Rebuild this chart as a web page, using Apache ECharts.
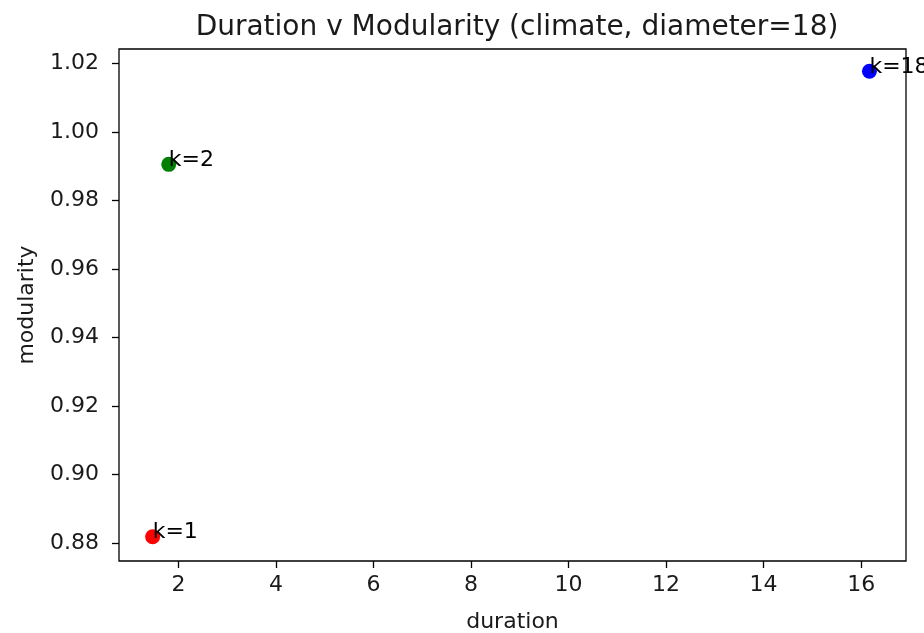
<!DOCTYPE html>
<html>
<head>
<meta charset="utf-8">
<script src="https://cdn.jsdelivr.net/npm/echarts@6/dist/echarts.min.js"></script>
<style>
html,body{margin:0;padding:0;background:#fff;}
#chart{width:924px;height:633px;}
</style>
</head>
<body>
<div id="chart"></div>
<script>
const pointLabels = ['k=1', 'k=2', 'k=18'];
const durations = [1.47, 1.80, 16.17];
const modularity = [0.8818, 0.9906, 1.0178];
const pointColors = ['#ff0000', '#008000', '#0000ff'];
const xTicks = [2, 4, 6, 8, 10, 12, 14, 16];
const yTicks = [0.88, 0.90, 0.92, 0.94, 0.96, 0.98, 1.00, 1.02];

const font = 'DejaVu Sans';
const chart = echarts.init(document.getElementById('chart'), null, {renderer: 'canvas'});
const data = durations.map((d, i) => ({
  value: [d, modularity[i]],
  name: pointLabels[i],
  itemStyle: {color: pointColors[i], opacity: 1}
}));
chart.setOption({
  animation: false,
  backgroundColor: '#fff',
  title: {
    text: 'Duration v Modularity (climate, diameter=18)',
    left: 512, top: 9, textAlign: 'center',
    textStyle: {fontFamily: font, fontSize: 28, fontWeight: 'normal', color: '#1a1a1a'}
  },
  grid: {left: 119, right: 18, top: 49, bottom: 72, show: true, borderColor: '#000', borderWidth: 1.3, backgroundColor: 'transparent', outerBoundsMode: 'none', containLabel: false},
  xAxis: {
    type: 'value', min: 0.78, max: 16.92,
    name: 'duration', nameLocation: 'middle', nameGap: 50,
    nameTextStyle: {fontFamily: font, fontSize: 22, color: '#1a1a1a'},
    axisLine: {show: false},
    splitLine: {show: false},
    axisTick: {show: true, inside: false, length: 7, lineStyle: {color: '#000', width: 1.3}, customValues: xTicks},
    axisLabel: {fontFamily: font, fontSize: 22, color: '#1a1a1a', margin: 13, customValues: xTicks, formatter: v => String(v)}
  },
  yAxis: {
    type: 'value', min: 0.8747, max: 1.0243,
    name: 'modularity', nameLocation: 'middle', nameGap: 81,
    nameTextStyle: {fontFamily: font, fontSize: 22, color: '#1a1a1a'},
    axisLine: {show: false},
    splitLine: {show: false},
    axisTick: {show: true, inside: false, length: 7, lineStyle: {color: '#000', width: 1.3}, customValues: yTicks},
    axisLabel: {fontFamily: font, fontSize: 22, color: '#1a1a1a', margin: 20, customValues: yTicks, formatter: v => v.toFixed(2)}
  },
  series: [{
    type: 'scatter',
    symbolSize: 15,
    clip: false,
    data: data,
    label: {
      show: true,
      position: [7.5, 7.5],
      align: 'left',
      verticalAlign: 'middle',
      offset: [0, -4],
      formatter: p => p.name,
      fontFamily: font, fontSize: 22, color: '#000', opacity: 1
    }
  }]
});
</script>
</body>
</html>
